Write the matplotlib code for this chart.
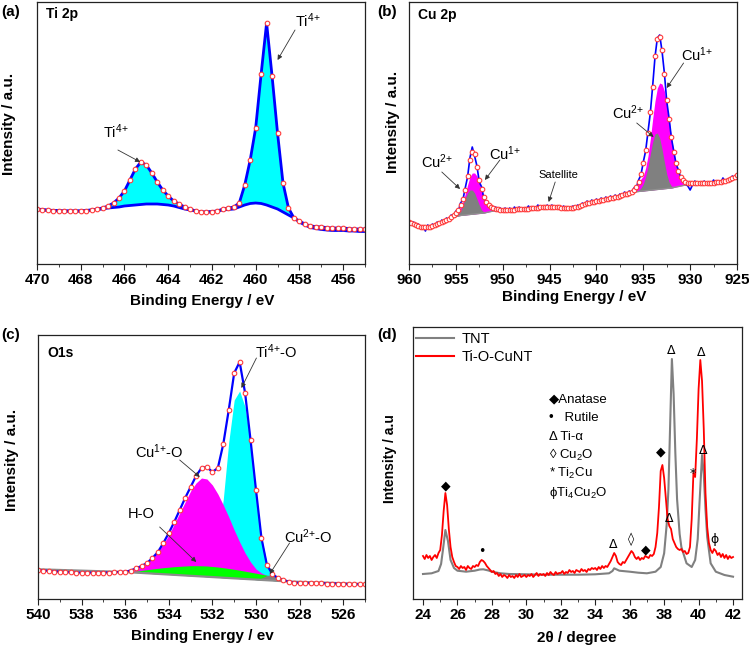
import numpy as np
import matplotlib
matplotlib.use('Agg')
import matplotlib.pyplot as plt
from matplotlib.ticker import MultipleLocator
from matplotlib.lines import Line2D

plt.rcParams['font.family'] = ['Liberation Sans', 'DejaVu Sans']
plt.rcParams['mathtext.default'] = 'regular'

# ---------------- (a) Ti 2p : 470 -> 455 eV, step 0.25 ----------------
ti_be = np.linspace(470, 455, 61)
ti_env = [55, 54.5, 54, 53.5, 53.5, 53, 53, 53, 53, 53.5,
          54, 55, 56, 58, 61, 66, 73, 84, 95, 102,
          99, 91, 82, 74, 68, 63, 60, 57, 55, 53,
          52, 52, 52.5, 53, 55, 56, 57, 61, 79, 104,
          136, 190, 241, 188, 131, 81, 56, 46, 43, 40,
          38, 37.5, 37, 36.5, 36, 36, 36, 35.5, 35, 35,
          35]
ti_bg = [54, 54, 53.5, 53.5, 53, 53, 53, 53, 53, 53.5,
         54, 54.5, 55, 56, 56.5, 57, 58, 58.5, 59, 59.5,
         60, 60, 60, 59.5, 59, 58, 56.5, 55, 54, 53,
         52, 52, 52, 53, 54, 54.5, 55, 57, 59, 60.5,
         61, 60.5, 59, 57, 55, 52, 49, 46, 42, 39,
         36.5, 35.5, 34.5, 34, 33.5, 33.5, 33.5, 33, 33, 32.5,
         32.5]

# ---------------- (b) Cu 2p : 960 -> 925 eV, step 0.25 ----------------
cu_be = np.linspace(960, 925, 141)
cu_env = [42, 41, 40, 39, 38.5, 37.5, 37, 37, 37, 37.5, 38, 39, 40, 41, 42, 43, 44, 45.5, 47, 49,
          51, 54, 59, 65, 74, 88, 104, 112, 110, 97, 84, 75, 67, 62, 59, 57, 56, 55.5, 55, 54.5,
          54, 54, 54, 54.5, 54.5, 54.5, 55, 55, 55, 55, 55.5, 55.5, 56, 56, 56.5, 56.5, 57, 57, 57, 57,
          57, 57, 57, 57, 57, 56.5, 56.5, 56.5, 56.5, 56.5, 56.5, 57, 57.5, 58, 59, 60, 61, 61.5, 62, 62.5,
          63, 63.5, 64, 64.5, 65, 65.5, 66, 66.5, 67, 67.5, 68.5, 69, 70, 70.5, 71, 72, 74, 77, 82, 90,
          101, 114, 131, 152, 177, 208, 225, 227, 214, 190, 164, 145, 127, 112, 101, 93, 87, 84, 82, 81.5,
          81, 81, 81, 81, 81, 81, 81, 81, 81, 81.5, 81.5, 82, 82, 82.5, 83, 83.5, 84, 85, 86, 87.5,
          89]
cu_raw = [44, 39, 42, 37, 40, 35, 38, 33, 39, 36, 40, 37, 42, 39, 44, 41, 46, 44, 49, 47,
          53, 52, 61, 64, 76, 87, 106, 117, 108, 98, 82, 77, 65, 63, 57, 59, 54, 57, 53, 56,
          52, 56, 53, 56, 52, 57, 54, 57, 53, 56, 55, 58, 54, 57, 55, 59, 56, 58, 55, 59,
          56, 59, 55, 58, 57, 55, 58, 54, 57, 56, 58, 55, 59, 57, 61, 58, 63, 60, 64, 61,
          65, 62, 66, 63, 67, 64, 68, 65, 69, 66, 70, 68, 72, 69, 73, 71, 76, 76, 84, 89,
          102, 113, 132, 151, 178, 207, 226, 229, 213, 191, 163, 146, 126, 113, 100, 94, 86, 85, 80, 78,
          74, 79, 83, 80, 82, 79, 83, 80, 82, 80, 84, 81, 83, 81, 86, 82, 85, 84, 88, 86,
          90]
# Cu 2p1/2 components, 956 -> 950 eV
cu_be_12 = np.linspace(956, 950, 25)
cu_bg_12 = [44, 45, 46, 47, 47.5, 48, 48.5, 48.8, 49, 49.3, 49.5, 49.8, 50,
            50.3, 50.5, 50.8, 51, 51.5, 52, 52.5, 53, 53, 53.5, 54, 54]
cu2_12 = [44, 45, 46, 47, 48, 50, 53, 59, 66, 71, 74, 74, 71,
          65, 59, 54, 52, 52, 52, 52.5, 53, 53, 53.5, 54, 54]
cu1_12 = [44, 45, 46, 48, 50, 53, 57, 62, 70, 79, 87, 91, 91,
          88, 81, 73, 65, 60, 57, 55.5, 54.5, 54, 54, 54, 54]
# Cu 2p3/2 components, 937 -> 929.5 eV
cu_be_32 = np.linspace(937, 929.5, 31)
cu_bg_32 = [70, 70.5, 71, 71.5, 72, 72.3, 72.5, 72.8, 73, 73.3, 73.5, 73.8, 74, 74.3, 74.5, 74.8,
            75, 75.3, 75.5, 75.8, 76, 76.5, 77, 77.5, 78, 78.5, 79, 79.5, 80, 80.5, 81]
cu2_32 = [70, 70.5, 71, 71.5, 72, 72.5, 73.5, 76, 80, 87, 97, 110, 122, 130, 131, 126,
          115, 102, 90, 82, 78, 77, 77, 77.5, 78, 78.5, 79, 79.5, 80, 80.5, 81]
cu1_32 = [70, 70.5, 71.5, 73, 75, 78, 82, 85, 88, 96, 108, 125, 145, 163, 176, 181,
          180, 173, 160, 144, 127, 112, 100, 92, 86, 83, 81, 80.5, 80.5, 80.5, 81]

# ---------------- (c) O 1s : 540 -> 525 eV, step 0.25 ----------------
o_be = np.linspace(540, 525, 61)
o_env = [29, 28.5, 28, 27.5, 27.3, 27, 26.7, 26.5, 26.3, 26.3,
         26.3, 26.3, 26.3, 26.5, 26.8, 27, 27.3, 28.5, 30.7, 33,
         36, 41, 47, 56, 66, 77, 89, 101, 112, 123,
         131, 132, 127, 131, 155, 189, 226, 237, 206, 159,
         109, 61, 34, 25, 21, 19, 17.5, 16.5, 16, 16,
         16, 16, 16, 15.5, 15.5, 15.3, 15, 15, 14.8, 14.7,
         14.7]
o_bg_be = [540, 536, 528.5, 525]
o_bg_line = [29.7, 27, 17.5, 15]
# components 536 -> 528.5 eV
o_comp_be = np.linspace(536, 528.5, 31)
o_bg = [27, 26.7, 26.4, 26.1, 25.7, 25.4, 25.1, 24.8, 24.5, 24.2,
        23.8, 23.5, 23.2, 22.9, 22.6, 22.3, 21.9, 21.6, 21.3, 21,
        20.7, 20.4, 20, 19.7, 19.4, 19.1, 18.8, 18.5, 18.1, 17.8,
        17.5]
o_cu1 = [27, 28, 30, 33, 36.5, 41, 47, 55, 64, 75,
         86, 97, 108, 116, 121, 120, 114, 105, 94, 82,
         69, 57, 46, 37, 30, 26, 23.5, 22.5, 21.5, 20,
         17.5]
o_ti = [27, 26.7, 26.4, 26.1, 25.7, 25.4, 25.1, 24.8, 24.5, 24.2,
        23.8, 23.5, 23.2, 22.9, 22.6, 26, 36, 58, 100, 157,
        199, 208, 192, 156, 106, 62, 36, 25, 21, 19,
        17.5]
o_ho = [27, 27.2, 27.8, 28.6, 29.3, 30, 30.7, 31.3, 31.8, 32.3,
        32.7, 33, 33.3, 33.3, 33.2, 33, 32.5, 32, 31.3, 30.5,
        29.7, 28.8, 27.8, 26.8, 25.8, 24.8, 23.8, 22.8, 21.5, 20,
        17.5]
o_cu2 = [27, 26.7, 26.4, 26.1, 25.7, 25.4, 25.1, 24.8, 24.5, 24.2,
         23.8, 23.5, 23.2, 22.9, 22.6, 22.3, 21.9, 21.6, 21.3, 21,
         20.7, 20.4, 20, 19.7, 19.4, 21, 23.5, 24.5, 23, 19.5,
         17.5]

# ---------------- (d) XRD ----------------
tnt_2t = [24, 24.5, 24.9, 25.05, 25.15, 25.3, 25.45, 25.6, 25.8, 26, 26.5, 27, 27.3, 27.5,
          27.8, 28, 28.5, 29, 30, 31, 32, 33, 34, 34.8, 35.0, 35.1, 35.25, 35.4, 36, 36.5,
          37, 37.5, 37.8, 38.0, 38.15, 38.25, 38.35, 38.45, 38.55, 38.65, 38.75, 38.9, 39.0,
          39.3, 39.6, 39.8, 39.95, 40.05, 40.2, 40.3, 40.4, 40.5, 40.7, 41, 41.5, 42]
tnt_int = [25, 25.7, 28, 35, 48, 69, 58, 39, 31, 28.3, 27.3, 28.3, 29.5, 29.7,
           28.5, 27.3, 25.7, 25, 24.7, 24.3, 24.3, 24.3, 24.7, 25.7, 28, 30.7, 29.5, 28.3, 27.3, 26.3,
           25.7, 27.3, 32, 45.7, 75, 110, 175, 240, 205, 146, 100, 65, 52,
           35.7, 32, 39, 60, 95, 144, 125, 90, 62, 35.7, 27.3, 24, 22.3]
cunt_2t = np.linspace(24, 42, 181)
cunt_int = [43, 40, 44, 41, 43, 39, 42, 44, 41, 46,
            49, 64, 88, 106, 94, 70, 52, 42, 37, 33,
            32, 30, 33, 31, 32, 29, 33, 31, 30, 33,
            32, 34, 33, 37, 39, 38, 36, 33, 31, 29,
            27, 28, 25, 26, 23, 25, 22, 24, 23, 21,
            24, 22, 23, 21, 24, 22, 25, 22, 23, 24,
            22, 24, 23, 25, 22, 24, 26, 23, 25, 24,
            25, 23, 26, 24, 27, 25, 24, 27, 25, 26,
            26, 28, 25, 27, 26, 29, 27, 28, 26, 29,
            28, 27, 30, 28, 29, 27, 30, 29, 31, 30,
            31, 29, 32, 30, 33, 31, 33, 32, 35, 38,
            42, 46, 43, 37, 35, 34, 37, 36, 39, 42,
            45, 48, 46, 42, 40, 42, 39, 41, 40, 43,
            42, 41, 44, 43, 45, 52, 66, 92, 128, 134,
            121, 100, 80, 73, 70, 60, 56, 52, 50, 49,
            50, 47, 48, 45, 46, 52, 80, 126, 122, 160,
            210, 239, 218, 170, 106, 72, 56, 49, 46, 50,
            48, 44, 46, 42, 45, 41, 44, 40, 43, 41,
            42]
phase_sym = ['\u25c6', '\u2022', '\u0394', '\u25ca', '\u25c6', '\u25c6', '\u0394', '\u0394', '*', '\u0394', '\u0394', '\u03d5']
phase_2t = [25.32, 27.44, 35.05, 36.06, 36.93, 37.78, 38.38, 38.32, 39.64, 40.12, 40.26, 40.9]
phase_h = [113, 48, 54, 60, 49, 147, 248, 80, 126, 247, 148, 60]
key_text = ['\u25c6Anatase', '\u2022   Rutile', '\u0394 Ti-\u03b1', '\u25ca Cu$_2$O', '* Ti$_2$Cu', '\u03d5Ti$_4$Cu$_2$O']
key_h = [200, 181, 162, 144, 126, 106]

W, H = 749, 647
fig = plt.figure(figsize=(W / 100, H / 100), dpi=100)


def rect(x0, y0, x1, y1):
    return [x0 / W, 1 - y1 / H, (x1 - x0) / W, (y1 - y0) / H]


def style(ax, xlim, ylim, major, minor):
    ax.set_xlim(*xlim)
    ax.set_ylim(*ylim)
    ax.xaxis.set_major_locator(MultipleLocator(major))
    ax.xaxis.set_minor_locator(MultipleLocator(minor))
    ax.tick_params(axis='x', which='major', direction='out', length=4, width=0.8,
                   labelsize=11, pad=2.5, colors='#222222', labelcolor='black')
    ax.tick_params(axis='x', which='minor', direction='out', length=2, width=0.6, colors='#222222')
    ax.set_yticks([])
    plt.setp(ax.get_xticklabels(), fontweight='bold')
    for s in ax.spines.values():
        s.set_linewidth(0.9)
        s.set_color('#222222')


def arrow(ax, tail, head):
    ax.annotate('', xy=head, xytext=tail,
                arrowprops=dict(arrowstyle='-|>', color='#333333', lw=0.6, mutation_scale=7,
                                shrinkA=0, shrinkB=0))


circ = dict(ls='none', marker='o', ms=3.3, mfc='white', mec='#ff3b3b', mew=0.8)
ann = dict(fontsize=10.5, ha='center', va='center')

# ---- (a)
ax = fig.add_axes(rect(37, 2, 365, 264))
ti_env_a, ti_bg_a = np.array(ti_env), np.array(ti_bg)
ax.fill_between(ti_be, ti_bg_a, ti_env_a, where=(ti_env_a - ti_bg_a) > 2.5,
                interpolate=True, color='#00ffff', lw=0)
ax.plot(ti_be, ti_bg, color='#0000ff', lw=2)
ax.plot(ti_be, ti_env, color='#0000ff', lw=2)
ax.plot(ti_be, ti_env, **circ)
style(ax, (470, 455), (0, 262), 2, 1)
ax.text(466.42, 132, 'Ti$^{4{+}}$', **ann)
arrow(ax, (466.3, 114), (465.28, 102))
ax.text(457.6, 243, 'Ti$^{4{+}}$', **ann)
arrow(ax, (458.2, 234), (459.0, 204))
ax.text(0.028, 0.955, 'Ti 2p', transform=ax.transAxes, fontsize=10, fontweight='bold', va='center')

# ---- (b)
ax = fig.add_axes(rect(409, 2, 737, 264))
ax.fill_between(cu_be_12, cu_bg_12, cu1_12, color='#ff00ff', lw=0)
ax.fill_between(cu_be_12, cu_bg_12, cu2_12, color='#808080', lw=0)
ax.fill_between(cu_be_32, cu_bg_32, cu1_32, color='#ff00ff', lw=0)
ax.fill_between(cu_be_32, cu_bg_32, cu2_32, color='#808080', lw=0)
ax.plot(cu_be_12, cu_bg_12, color='#909090', lw=1)
ax.plot(cu_be_32, cu_bg_32, color='#909090', lw=1)
ax.plot(cu_be, cu_raw, color='#0000ff', lw=1.2)
ax.plot(cu_be, cu_env, **circ)
style(ax, (960, 925), (0, 262), 5, 2.5)
ax.text(957.05, 102, 'Cu$^{2{+}}$', **ann)
arrow(ax, (956.5, 92), (954.55, 75))
ax.text(949.75, 110, 'Cu$^{1{+}}$', **ann)
arrow(ax, (950.3, 104), (951.9, 84))
ax.text(944.06, 89, 'Satellite', fontsize=8, ha='center', va='center')
arrow(ax, (944.4, 82), (945.1, 62))
ax.text(936.6, 151, 'Cu$^{2{+}}$', **ann)
arrow(ax, (935.7, 141), (933.9, 127))
ax.text(929.3, 209, 'Cu$^{1{+}}$', **ann)
arrow(ax, (930.7, 201), (932.5, 176))
ax.text(0.028, 0.95, 'Cu 2p', transform=ax.transAxes, fontsize=10, fontweight='bold', va='center')

# ---- (c)
ax = fig.add_axes(rect(38, 335, 365, 599))
ax.fill_between(o_comp_be, o_bg, o_ti, color='#00ffff', lw=0)
ax.fill_between(o_comp_be, o_bg, o_cu1, color='#ff00ff', lw=0)
ax.fill_between(o_comp_be, o_bg, o_ho, color='#00ff00', lw=0)
ax.fill_between(o_comp_be, o_bg, o_cu2, color='#808080', lw=0)
ax.plot(o_bg_be, o_bg_line, color='#8c8c8c', lw=1.6)
ax.plot(o_be, o_env, color='#0000ff', lw=1.6)
ax.plot(o_be, o_env, **circ)
style(ax, (540, 525), (0, 264), 2, 1)
ax.text(529.07, 247, 'Ti$^{4{+}}$-O', **ann)
arrow(ax, (529.98, 241), (530.67, 211))
ax.text(534.45, 147, 'Cu$^{1{+}}$-O', **ann)
arrow(ax, (533.5, 139), (532.58, 122))
ax.text(535.26, 85, 'H-O', **ann)
arrow(ax, (534.42, 72), (532.74, 37))
ax.text(527.61, 62, 'Cu$^{2{+}}$-O', **ann)
arrow(ax, (528.46, 56), (529.37, 25))
ax.text(0.028, 0.93, 'O1s', transform=ax.transAxes, fontsize=10, fontweight='bold', va='center')

# ---- (d)
ax = fig.add_axes(rect(413, 327, 742, 599))
ax.plot(tnt_2t, tnt_int, color='#808080', lw=1.5)
ax.plot(cunt_2t, cunt_int, color='#ff0000', lw=1.3)
style(ax, (23.42, 42.52), (0, 272), 2, 1)
for s, t, h in zip(phase_sym, phase_2t, phase_h):
    ax.text(t, h, s, fontsize=9, ha='center', va='center', family=['DejaVu Sans'])
for s, h in zip(key_text, key_h):
    ax.text(31.3, h, s, fontsize=9.5, ha='left', va='center', family=['Liberation Sans', 'DejaVu Sans'])
handles = [Line2D([], [], color='#808080', lw=1.5), Line2D([], [], color='#ff0000', lw=1.5)]
ax.legend(handles, ['TNT', 'Ti-O-CuNT'], loc='upper left', bbox_to_anchor=(-0.03, 1.03),
          frameon=False, fontsize=10.5, handlelength=2.6, handletextpad=0.5, labelspacing=0.25)

# axis titles and panel letters
lab = dict(fontsize=11, fontweight='bold')
fig.text(9 / W, 1 - 124 / H, 'Intensity / a.u.', rotation=90, ha='center', va='center', **lab)
fig.text(393 / W, 1 - 122 / H, 'Intensity / a.u.', rotation=90, ha='center', va='center', **lab)
fig.text(12 / W, 1 - 460 / H, 'Intensity / a.u.', rotation=90, ha='center', va='center', **lab)
fig.text(390 / W, 1 - 459 / H, 'Intensity / a.u', rotation=90, ha='center', va='center',
         fontsize=10, fontweight='bold')
fig.text(202 / W, 1 - 301 / H, 'Binding Energy / eV', ha='center', va='center', **lab)
fig.text(574 / W, 1 - 297 / H, 'Binding Energy / eV', ha='center', va='center', **lab)
fig.text(202 / W, 1 - 636 / H, 'Binding Energy / ev', ha='center', va='center', **lab)
fig.text(577 / W, 1 - 638 / H, '2\u03b8 / degree', ha='center', va='center', **lab)
fig.text(1 / W, 1 - 12 / H, '(a)', ha='left', va='center', **lab)
fig.text(377 / W, 1 - 12 / H, '(b)', ha='left', va='center', **lab)
fig.text(1 / W, 1 - 335 / H, '(c)', ha='left', va='center', **lab)
fig.text(377 / W, 1 - 335 / H, '(d)', ha='left', va='center', **lab)

fig.savefig('out.png', dpi=100)
